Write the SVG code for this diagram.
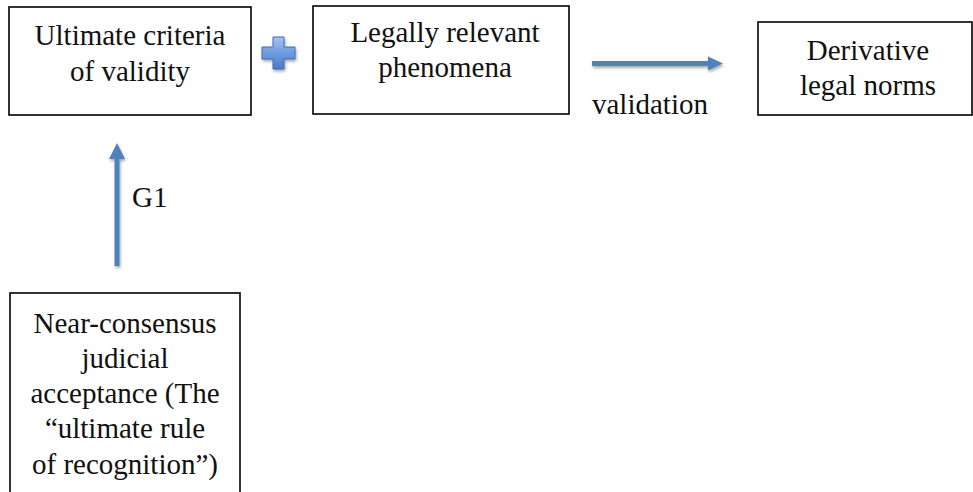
<svg xmlns="http://www.w3.org/2000/svg" width="973" height="492" viewBox="0 0 973 492">
  <style>
    .box { fill: #ffffff; stroke: #000000; stroke-width: 1.6; }
    .lbl { font-family: "Liberation Serif", "DejaVu Serif", serif; font-size: 29px; fill: #111111; text-anchor: middle; }
    .free { font-family: "Liberation Serif", "DejaVu Serif", serif; font-size: 29px; fill: #111111; }
    .arrow { fill: #4f81bd; }
  </style>
  <defs>
    <filter id="shadow" x="-30%" y="-30%" width="160%" height="180%">
      <feGaussianBlur in="SourceAlpha" stdDeviation="1.6"/>
      <feOffset dx="0.5" dy="2" result="b"/>
      <feComponentTransfer><feFuncA type="linear" slope="0.35"/></feComponentTransfer>
      <feMerge><feMergeNode/><feMergeNode in="SourceGraphic"/></feMerge>
    </filter>
    <linearGradient id="plusFill" x1="0" y1="0" x2="0" y2="1">
      <stop offset="0" stop-color="#a9c4f0"/>
      <stop offset="0.5" stop-color="#6f9be0"/>
      <stop offset="1" stop-color="#4a7cc8"/>
    </linearGradient>
  </defs>

  <g id="criteria">
    <rect class="box" x="9" y="7" width="242" height="108"/>
    <text class="lbl" x="130" y="45">Ultimate criteria</text>
    <text class="lbl" x="130" y="81">of validity</text>
  </g>

  <g id="plus" filter="url(#shadow)">
    <path d="M273 37 H284 V47 H295 V59 H284 V69 H273 V59 H262 V47 H273 Z" fill="url(#plusFill)" stroke="#3d6bb3" stroke-width="1"/>
  </g>

  <g id="phenomena">
    <rect class="box" x="313" y="6" width="256" height="108"/>
    <text class="lbl" x="445" y="42">Legally relevant</text>
    <text class="lbl" x="445" y="77">phenomena</text>
  </g>

  <g id="derivative">
    <rect class="box" x="758" y="22" width="214" height="93"/>
    <text class="lbl" x="868" y="60">Derivative</text>
    <text class="lbl" x="868" y="95">legal norms</text>
  </g>

  <g id="acceptance">
    <rect class="box" x="10" y="293" width="230" height="220"/>
    <text class="lbl" x="125" y="333">Near-consensus</text>
    <text class="lbl" x="125" y="368">judicial</text>
    <text class="lbl" x="125" y="403">acceptance (The</text>
    <text class="lbl" x="125" y="438">“ultimate rule</text>
    <text class="lbl" x="125" y="474">of recognition”)</text>
  </g>

  <g id="connectors">
    <g filter="url(#shadow)">
      <path class="arrow" d="M592 61 H708 V56.5 L723 63.5 L708 70.5 V66 H592 Z"/>
      <path class="arrow" d="M114.5 266 V159 H109 L117 143 L125 159 H119.5 V266 Z"/>
    </g>
    <text class="free" x="592" y="114">validation</text>
    <text class="free" x="132" y="207">G1</text>
  </g>
</svg>
